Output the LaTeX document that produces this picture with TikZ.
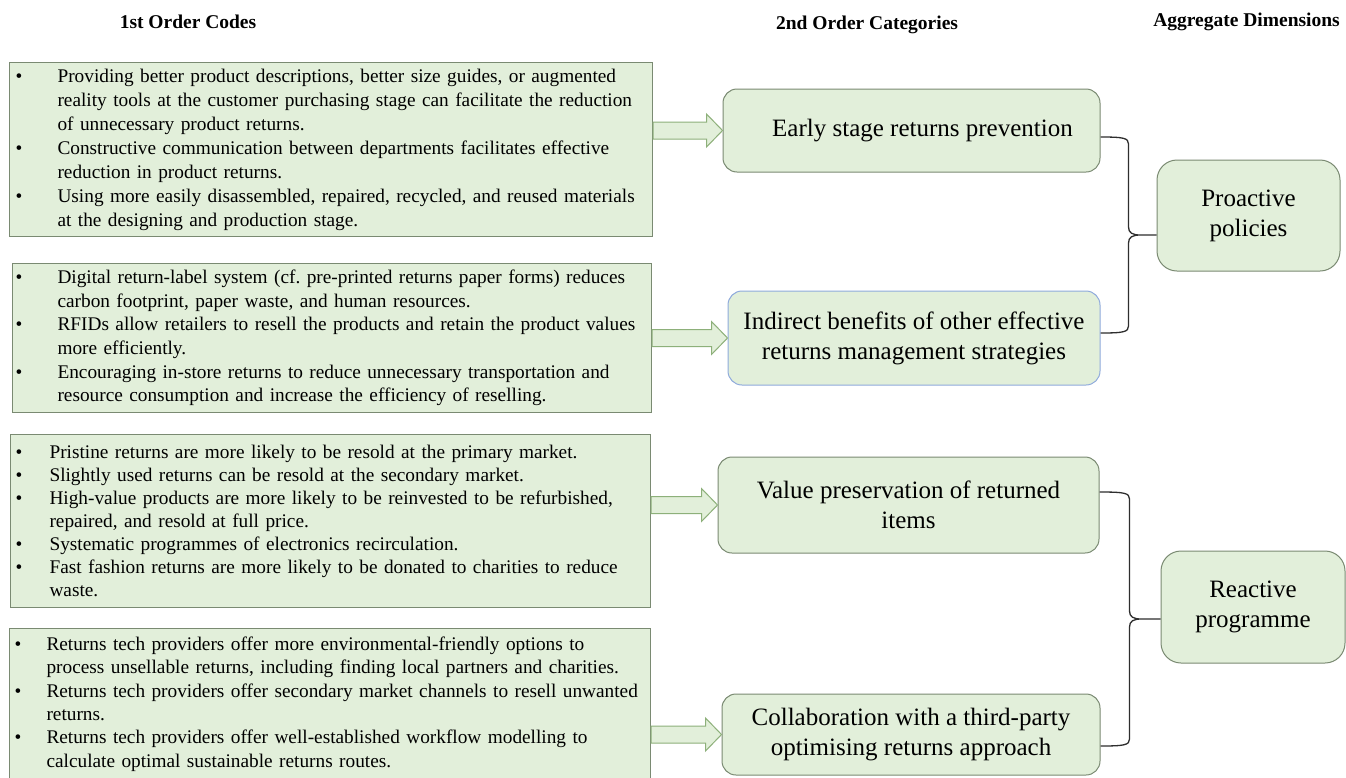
\documentclass[tikz,border=0pt]{standalone}
\usepackage{fontspec}
\IfFontExistsTF{LiberationSerif-Regular}{%
  \IfFontExistsTF{LiberationSerif-Bold}{%
    \setmainfont{LiberationSerif-Regular}[BoldFont=LiberationSerif-Bold]}{%
    \setmainfont{LiberationSerif-Regular}}}{%
  \setmainfont{Liberation Serif}}
\usetikzlibrary{calc}
\frenchspacing
\definecolor{boxfill}{HTML}{E2EFDA}
\definecolor{boxline}{HTML}{7A8A72}
\definecolor{blueline}{HTML}{8FAADC}
\definecolor{arrline}{HTML}{8DB07A}
\definecolor{brcol}{HTML}{2E2E2E}
\newlength\bx
\newlength\bind
\newcommand\bitem[1]{\hspace*{\bx}\makebox[\bind][l]{\textbullet}\mbox{#1}}
\newcommand\bcont[1]{\hspace*{\bx}\hspace*{\bind}\mbox{#1}}
\newcommand\blockarr[2]{%
  \draw[barr] let \p1=(#1.east), \p2=(#2.west) in
    (\x1,\y2+8.5pt) -- (\x2-16pt,\y2+8.5pt) -- (\x2-16pt,\y2+16.5pt) -- (\x2,\y2)
    -- (\x2-16pt,\y2-16.5pt) -- (\x2-16pt,\y2-8.5pt) -- (\x1,\y2-8.5pt) -- cycle;}
\newcommand\curlybrace[4]{%
  \draw[brc] let \p1=(#1), \p2=(#2), \p3=(#3), \p4=($(#1)+(#4,0)$) in
    (\p1) .. controls (\x4-5pt,\y1) and (\x4,\y1-1pt) .. (\x4,\y1-7pt)
    -- (\x4,\y3+8pt) .. controls (\x4,\y3+2pt) and (\x4+4pt,\y3) .. (\x4+12pt,\y3) -- (\p3)
    (\x4+12pt,\y3) .. controls (\x4+4pt,\y3) and (\x4,\y3-2pt) .. (\x4,\y3-8pt)
    -- (\x4,\y2+7pt) .. controls (\x4,\y2+1pt) and (\x4-5pt,\y2) .. (\p2);}
\begin{document}
\begin{tikzpicture}[x=1pt,y=-1pt,
  leftbox/.style={draw=boxline, fill=boxfill, line width=1.1pt, inner xsep=0pt, inner ysep=0pt,
    anchor=north west, align=left},
  midbox/.style={draw=boxline, fill=boxfill, line width=1pt, rounded corners=14pt, align=center,
    inner sep=0pt, font=\fontsize{25}{30}\selectfont},
  rightbox/.style={midbox, rounded corners=20pt},
  header/.style={font=\fontsize{19.5}{23}\selectfont\bfseries, inner sep=0pt},
  barr/.style={draw=arrline, fill=boxfill, line width=1pt, line join=miter},
  brc/.style={draw=brcol, line width=1.3pt}]
\useasboundingbox (0,0) rectangle (1346,777);
\fill[white] (0,0) rectangle (1346,777);

% headers
\node[header] (h1) at (188,22) {1st Order Codes};
\node[header] (h2) at (867,25) {2nd Order Categories};
\node[header, anchor=east] (h3) at (1340,22) {Aggregate Dimensions};

% left boxes
\node[leftbox, text width=643pt, minimum height=174pt, font=\fontsize{19.3}{24}\selectfont] (L1) at (9,62)
 {\setlength\bx{6pt}\setlength\bind{42pt}%
  \bitem{Providing better product descriptions, better size guides, or augmented}\\
  \bcont{reality tools at the customer purchasing stage can facilitate the reduction}\\
  \bcont{of unnecessary product returns.}\\
  \bitem{Constructive communication between departments facilitates effective}\\
  \bcont{reduction in product returns.}\\
  \bitem{Using more easily disassembled, repaired, recycled, and reused materials}\\
  \bcont{at the designing and production stage.}\par};
\node[leftbox, text width=639pt, minimum height=149pt, font=\fontsize{19.3}{23.6}\selectfont] (L2) at (12,263)
 {\setlength\bx{3pt}\setlength\bind{42pt}%
  \bitem{Digital return-label system (cf. pre-printed returns paper forms) reduces}\\
  \bcont{carbon footprint, paper waste, and human resources.}\\
  \bitem{RFIDs allow retailers to resell the products and retain the product values}\\
  \bcont{more efficiently.}\\
  \bitem{Encouraging in-store returns to reduce unnecessary transportation and}\\
  \bcont{resource consumption and increase the efficiency of reselling.}\par};
\node[leftbox, text width=640pt, minimum height=173pt, font=\fontsize{19.3}{23}\selectfont] (L3) at (10,434)
 {\setlength\bx{5pt}\setlength\bind{34pt}%
  \bitem{Pristine returns are more likely to be resold at the primary market.}\\
  \bitem{Slightly used returns can be resold at the secondary market.}\\
  \bitem{High-value products are more likely to be reinvested to be refurbished,}\\
  \bcont{repaired, and resold at full price.}\\
  \bitem{Systematic programmes of electronics recirculation.}\\
  \bitem{Fast fashion returns are more likely to be donated to charities to reduce}\\
  \bcont{waste.}\par};
\node[leftbox, text width=641pt, minimum height=151pt, font=\fontsize{19.3}{23.4}\selectfont] (L4) at (9,628)
 {\setlength\bx{5pt}\setlength\bind{32pt}%
  \bitem{Returns tech providers offer more environmental-friendly options to}\\
  \bcont{process unsellable returns, including finding local partners and charities.}\\
  \bitem{Returns tech providers offer secondary market channels to resell unwanted}\\
  \bcont{returns.}\\
  \bitem{Returns tech providers offer well-established workflow modelling to}\\
  \bcont{calculate optimal sustainable returns routes.}\par};

% middle boxes
\node[midbox, minimum width=377pt, minimum height=83pt] (M1) at (911.5,130.5)
 {\hspace*{22pt}Early stage returns prevention};
\node[midbox, draw=blueline, minimum width=372pt, minimum height=94pt] (M2) at (914,338)
 {Indirect benefits of other effective\\returns management strategies};
\node[midbox, minimum width=381pt, minimum height=96pt] (M3) at (908.5,505)
 {Value preservation of returned\\items};
\node[midbox, minimum width=378pt, minimum height=81pt] (M4) at (911,734.5)
 {Collaboration with a third-party\\optimising returns approach};

% right boxes
\node[rightbox, minimum width=183pt, minimum height=111pt] (R1) at (1248.5,215.5)
 {Proactive\\policies};
\node[rightbox, minimum width=184pt, minimum height=112pt] (R2) at (1253,607)
 {Reactive\\programme};

% block arrows
\blockarr{L1}{M1}
\blockarr{L2}{M2}
\blockarr{L3}{M3}
\blockarr{L4}{M4}

% braces
\coordinate (b1t) at (M1.east |- 0,137);
\coordinate (b1b) at (M2.east |- 0,333);
\coordinate (b1p) at (R1.west |- 0,235);
\coordinate (b2t) at (M3.east |- 0,492);
\coordinate (b2b) at (M4.east |- 0,746);
\coordinate (b2p) at (R2.west |- 0,619);
\curlybrace{b1t}{b1b}{b1p}{28}
\curlybrace{b2t}{b2b}{b2p}{30}
\end{tikzpicture}
\end{document}
